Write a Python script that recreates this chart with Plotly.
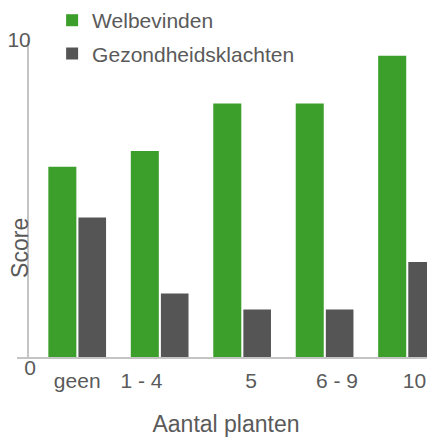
import plotly.graph_objects as go

categories = ["geen", "1 - 4", "5", "6 - 9", "10"]
welbevinden = [6.0, 6.5, 8.0, 8.0, 9.5]
gezondheidsklachten = [4.4, 2.0, 1.5, 1.5, 3.0]
tick_positions = [0.0, 0.78, 2.11, 3.15, 4.09]
y_ticks = [0, 10]

GREEN = "#3c9f2c"
GRAY = "#555555"
TEXT = "#5a5a5a"
FONT = "Liberation Sans, Arial, sans-serif"

xs = list(range(len(categories)))

fig = go.Figure()
fig.add_trace(go.Bar(x=xs, y=welbevinden, name="Welbevinden",
                     offset=-0.35, width=0.34,
                     marker=dict(color=GREEN, line=dict(width=0)), legendgroup="a"))
fig.add_trace(go.Bar(x=xs, y=gezondheidsklachten, name="Gezondheidsklachten",
                     offset=0.015, width=0.335, yaxis="y2",
                     marker=dict(color=GRAY, line=dict(width=0)), legendgroup="b"))

fig.update_layout(
    width=427, height=434,
    margin=dict(l=9, r=0, t=32, b=85, autoexpand=False),
    paper_bgcolor="white", plot_bgcolor="white",
    barmode="overlay",
    font=dict(family=FONT, color=TEXT, size=21),
    showlegend=True,
    legend=dict(x=0.084, y=1.126, xanchor="left", yanchor="top", yref="paper",
                font=dict(size=21, color=TEXT), tracegroupgap=3,
                bgcolor="rgba(0,0,0,0)"),
    xaxis=dict(range=[-0.730, 4.339], showgrid=False, zeroline=False,
               showline=True, linecolor="#c4c4c4", linewidth=2,
               tickmode="array", tickvals=tick_positions, ticktext=categories,
               ticks="", ticklabelstandoff=4, tickfont=dict(size=21, color=TEXT),
               title=dict(text="Aantal planten", font=dict(size=23, color=TEXT), standoff=25)),
    yaxis=dict(range=[0, 10], showgrid=False, zeroline=False,
               anchor="free", position=0.0263,
               showline=True, linecolor="#c4c4c4", linewidth=2,
               tickmode="array", tickvals=[y_ticks[1]], ticktext=[str(y_ticks[1])],
               ticks="", ticklabelstandoff=-8, tickfont=dict(size=21, color=TEXT)),
    yaxis2=dict(range=[0, 10], overlaying="y", anchor="free", position=0.0263, side="left",
                showgrid=False, zeroline=False, showline=False,
                tickmode="array", tickvals=[y_ticks[0]], ticktext=[str(y_ticks[0])],
                ticks="", ticklabelstandoff=-8, ticklabelshift=11,
                tickfont=dict(size=21, color=TEXT)),
    annotations=[dict(text="Score", x=0.007, y=0.344, xref="paper", yref="paper",
                      textangle=-90, showarrow=False, xanchor="center", yanchor="middle",
                      font=dict(size=23, color=TEXT))],
)

fig.write_html("out.html")
